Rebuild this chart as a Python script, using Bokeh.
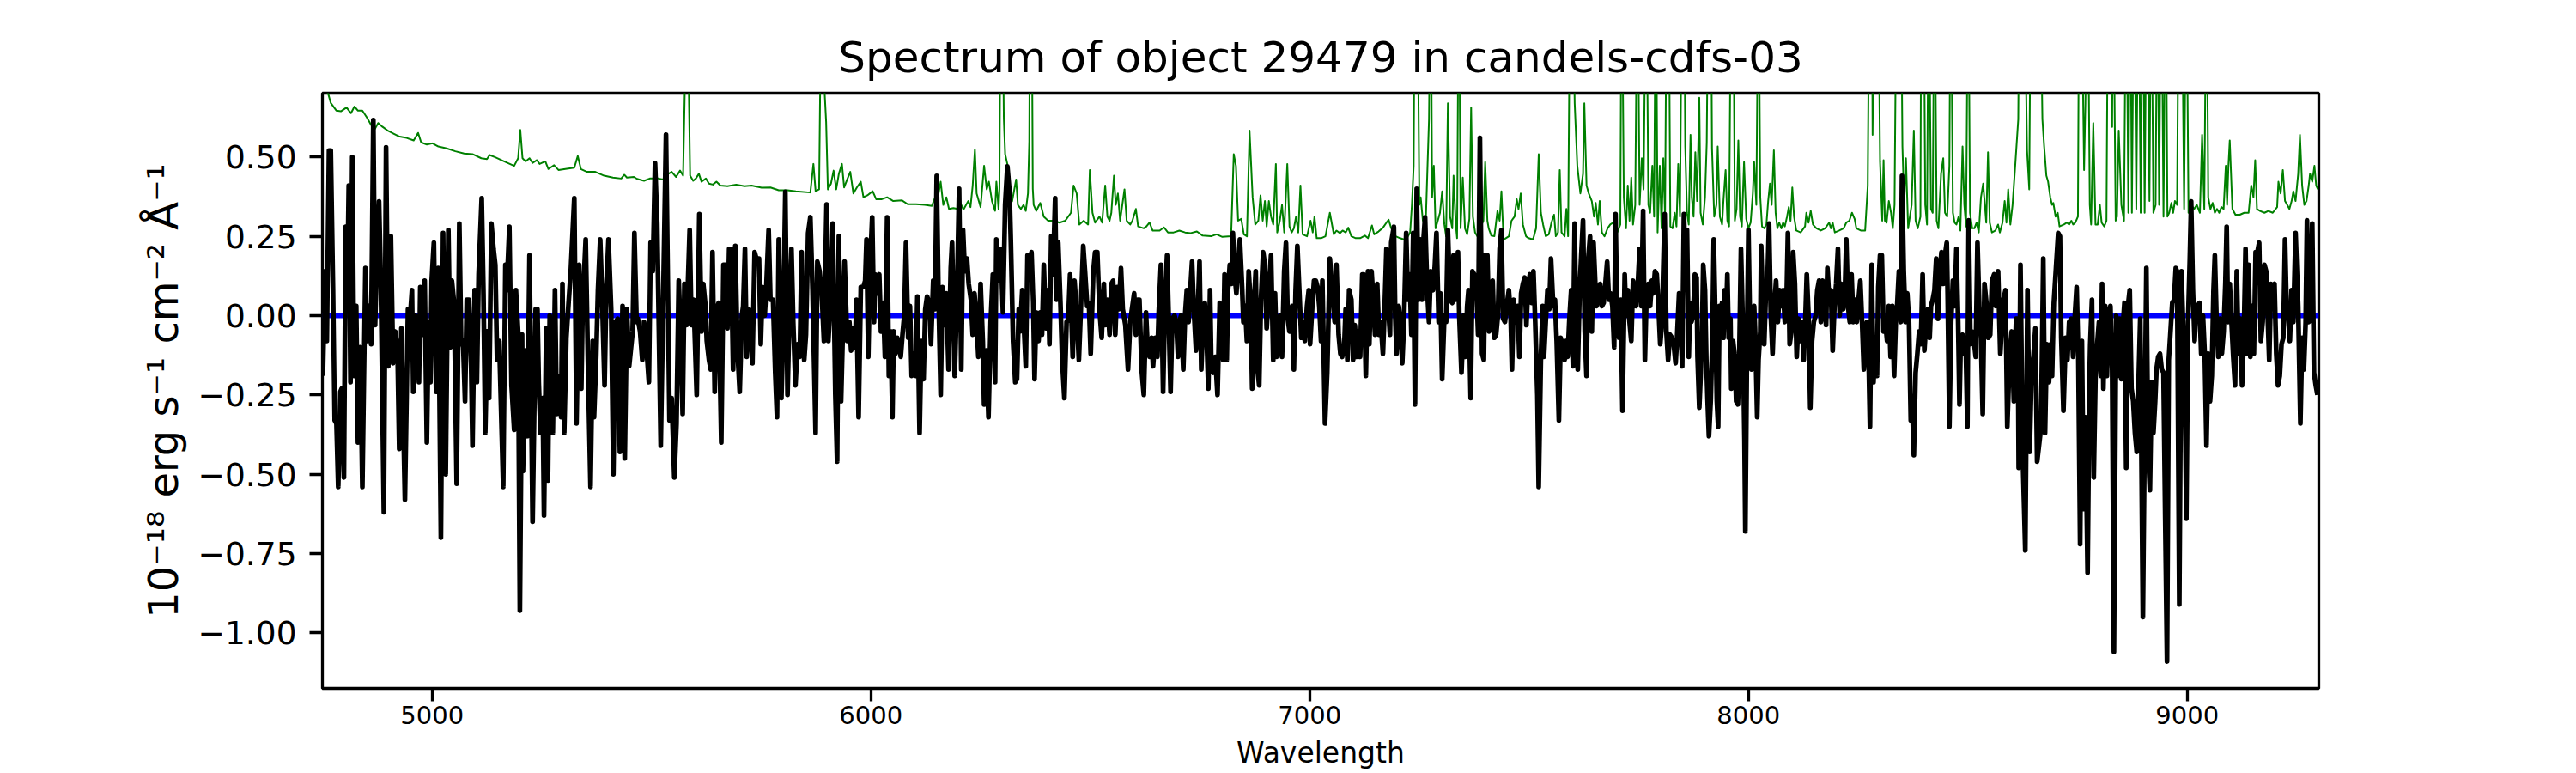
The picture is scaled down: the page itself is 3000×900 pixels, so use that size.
from bokeh.plotting import figure
from bokeh.models import Range1d, FixedTicker
from bokeh.embed import file_html
from bokeh.resources import INLINE

TITLE = "Spectrum of object 29479 in candels-cdfs-03"
X_LABEL = "Wavelength"
Y_LABEL = "10\u207b\u00b9\u2078 erg s\u207b\u00b9 cm\u207b\u00b2 \u00c5\u207b\u00b9"

x_ticks = [5000, 6000, 7000, 8000, 9000]
x_tick_labels = ["5000", "6000", "7000", "8000", "9000"]
y_ticks = [-1.0, -0.75, -0.5, -0.25, 0.0, 0.25, 0.5]
y_tick_labels = ["\u22121.00", "\u22120.75", "\u22120.50", "\u22120.25", "0.00", "0.25", "0.50"]

# object flux (black): (wavelength, flux)
flux_a = [(4751,-0.19),(4756,0.14),(4760,-0.08),(4765,0.52),(4769,0.52),(4774,0.09),(4778,-0.33),(4782,-0.34),(4786,-0.54),(4791,-0.24),(4794,-0.23),(4799,-0.51),(4803,0.28),(4807,0.09),(4810,0.41),(4814,-0.21),(4818,0.50),(4822,-0.19),(4827,0.03),(4831,-0.40),(4836,-0.10),(4841,-0.54),(4848,0.15),(4852,-0.08),(4856,0.03),(4861,-0.09),(4866,0.616),(4870,-0.03),(4874,0.19),(4879,0.36),(4883,0.11),(4890,-0.62),(4895,0.53),(4900,-0.16),(4906,0.25),(4911,-0.15),(4916,-0.05),(4921,-0.10),(4925,-0.42),(4930,-0.04),(4938,-0.58),(4945,0.02),(4950,0.00),(4954,0.08),(4957,-0.24),(4962,0.00),(4966,-0.01),(4970,-0.21),(4973,0.09),(4978,-0.06),(4983,0.11),(4988,-0.40),(4992,-0.02),(4996,-0.21),(4999,0.11),(5004,0.23),(5009,-0.24),(5014,0.15),(5020,-0.70),(5025,0.26),(5031,-0.50),(5037,0.27),(5041,-0.10),(5045,0.11),(5050,0.04),(5056,-0.53),(5062,0.29),(5066,-0.07),(5071,-0.10),(5075,-0.27),(5079,0.05),(5084,0.05),(5089,-0.16),(5092,-0.41),(5097,0.08),(5102,-0.21),(5106,0.13),(5113,0.37),(5117,0.07),(5121,-0.37),(5126,-0.05),(5130,-0.26),(5135,0.29),(5140,0.21),(5144,0.16),(5148,-0.14),(5153,-0.08),(5162,-0.54),(5167,0.16),(5170,0.08),(5176,0.28),(5181,-0.22),(5187,-0.36),(5191,0.08),(5196,-0.05),(5200,-0.93),(5205,-0.06),(5207,-0.49),(5213,-0.11),(5217,-0.38),(5222,0.19),(5229,-0.65),(5236,0.02),(5240,0.02),(5243,-0.21),(5247,-0.37),(5252,-0.26),(5255,-0.63),(5260,-0.04),(5264,-0.52),(5268,0.00),(5275,-0.37),(5280,0.08),(5284,-0.31),(5290,-0.19),(5294,-0.32),(5297,0.10),(5301,-0.37),(5306,-0.07),(5311,0.04),(5316,0.14),(5324,0.37),(5329,-0.34),(5335,0.16),(5340,-0.23),(5343,0.03),(5350,0.24),(5355,-0.14),(5361,-0.54),(5366,-0.08),(5369,-0.32),(5374,-0.13),(5378,0.08),(5383,0.24),(5387,0.08),(5393,-0.22),(5397,0.08),(5402,0.24),(5408,0.02),(5413,-0.50),(5418,-0.02),(5423,-0.01),(5428,-0.43),(5434,0.03),(5439,-0.45),(5444,0.02),(5449,-0.16),(5457,-0.05),(5461,0.26),(5466,-0.02),(5469,-0.01),(5474,-0.05),(5479,-0.14),(5483,-0.02),(5488,-0.09),(5494,-0.21),(5498,0.23),(5503,0.14),(5508,0.48),(5513,0.29),(5521,-0.41)]
flux_b = [(5533,0.57),(5541,-0.33),(5546,-0.26),(5552,-0.51),(5557,-0.34),(5562,0.11),(5567,-0.08),(5571,-0.31),(5575,0.10),(5580,-0.03),(5587,0.27),(5591,-0.03),(5596,0.05),(5603,-0.25),(5609,0.32),(5614,-0.05),(5618,0.10),(5623,0.03),(5626,-0.08),(5631,-0.14),(5635,-0.17),(5639,0.20),(5644,-0.24),(5648,0.02),(5653,0.04),(5659,-0.40),(5664,0.16),(5668,0.16),(5673,-0.04),(5677,0.21),(5681,0.21),(5686,-0.17),(5691,0.22),(5696,-0.11),(5701,-0.24),(5706,0.00),(5709,0.03),(5713,0.21),(5717,-0.13),(5722,0.02),(5725,-0.02),(5730,-0.15),(5735,0.20),(5739,0.18),(5745,0.18),(5749,-0.09),(5753,0.09),(5758,0.00),(5762,0.10),(5767,0.27),(5771,0.05),(5777,0.05),(5782,-0.18),(5786,-0.32),(5790,0.24),(5796,-0.26),(5800,-0.05),(5805,0.39),(5810,-0.25),(5815,0.05),(5819,0.21),(5823,-0.02),(5828,-0.22),(5833,-0.09),(5838,-0.13),(5842,0.20),(5848,-0.14),(5852,-0.06),(5857,0.26),(5862,0.31),(5867,0.08),(5874,-0.37),(5878,0.17),(5883,0.14),(5888,0.07),(5893,-0.08),(5899,0.35),(5903,-0.08),(5908,0.05),(5913,0.29),(5919,-0.25),(5923,-0.46),(5927,0.25),(5932,-0.27),(5936,-0.05),(5940,0.17),(5946,-0.08),(5951,-0.02),(5955,-0.11),(5960,-0.04),(5964,-0.10),(5967,0.05),(5972,-0.32),(5977,0.09),(5983,0.09),(5987,0.11),(5990,0.24),(5994,-0.13),(5998,0.15),(6003,0.31),(6007,-0.02),(6010,0.13),(6014,0.07),(6019,0.13),(6023,-0.05),(6028,0.04),(6032,-0.13),(6037,0.31),(6041,-0.19),(6045,-0.05),(6049,-0.32),(6052,-0.05),(6056,-0.12),(6060,-0.07),(6064,-0.09),(6068,-0.13),(6072,-0.06),(6076,0.00),(6080,0.23),(6085,-0.07),(6089,0.03),(6093,-0.19),(6098,-0.12),(6102,-0.19),(6106,0.06),(6111,-0.37),(6115,-0.08),(6120,-0.20),(6124,0.02),(6128,0.06),(6133,0.04),(6137,-0.09),(6142,0.11),(6146,0.02),(6150,0.44),(6154,0.07),(6159,-0.25),(6163,0.09),(6167,-0.03),(6172,0.07),(6177,-0.17),(6182,0.15),(6185,0.23),(6191,-0.19),(6196,0.05),(6201,0.40),(6206,-0.17),(6210,0.27),(6214,0.14),(6219,0.18),(6223,0.10),(6228,0.05),(6232,-0.06),(6236,0.07),(6240,0.00),(6245,-0.13),(6250,0.10),(6255,-0.08),(6258,-0.28),(6263,-0.11),(6268,-0.32),(6273,-0.02),(6278,0.13),(6283,-0.21),(6286,0.24)]
flux_c = [(6293,0.11),(6296,0.21),(6301,0.01),(6306,0.35),(6311,0.47),(6316,0.39),(6319,0.23),(6324,-0.08),(6329,-0.21),(6333,-0.20),(6337,0.02),(6340,-0.05),(6345,0.08),(6349,-0.04),(6353,-0.16),(6357,0.19),(6361,0.15),(6366,0.20),(6370,0.04),(6373,-0.20),(6377,0.01),(6382,-0.08),(6386,0.01),(6390,-0.06),(6394,0.16),(6399,-0.04),(6404,0.08),(6407,-0.09),(6411,0.25),(6415,0.13),(6420,0.37),(6423,0.05),(6427,0.23),(6432,0.04),(6436,-0.14),(6441,-0.26),(6446,-0.02),(6450,-0.01),(6454,0.13),(6460,-0.13),(6464,0.11),(6469,0.01),(6474,-0.14),(6479,0.04),(6484,0.22),(6488,0.14),(6493,0.03),(6497,0.04),(6501,-0.12),(6507,0.14),(6511,0.20),(6516,0.20),(6521,0.02),(6526,-0.07),(6531,0.10),(6534,-0.03),(6539,0.05),(6544,-0.06),(6548,0.10),(6552,0.11),(6557,-0.06),(6561,0.09),(6565,0.02),(6570,0.15),(6574,0.02),(6580,-0.03),(6586,-0.17),(6591,-0.02),(6596,0.03),(6600,0.07),(6604,-0.06),(6608,0.05),(6612,0.05),(6617,-0.17),(6622,-0.25),(6627,0.01),(6630,-0.08),(6635,-0.13),(6640,-0.07),(6643,-0.16),(6648,-0.07),(6653,-0.13),(6656,0.01),(6661,0.16),(6666,-0.24),(6670,0.03),(6675,0.19),(6679,-0.02),(6683,-0.24),(6687,-0.01),(6692,0.00),(6696,-0.02),(6700,-0.13),(6703,-0.02),(6707,0.00),(6712,-0.17),(6716,0.00),(6720,0.08),(6724,-0.02),(6728,0.08),(6732,0.17),(6736,0.02),(6741,-0.11),(6745,0.01),(6749,0.17),(6753,-0.17),(6757,-0.02),(6761,0.04),(6765,-0.06),(6769,-0.23),(6773,0.08),(6776,-0.17),(6780,-0.18),(6785,-0.13),(6790,-0.25),(6795,0.04),(6799,-0.02),(6803,-0.14),(6806,0.13),(6811,-0.14),(6814,0.08),(6818,0.16),(6822,0.10),(6825,0.26),(6829,0.13),(6833,0.07),(6837,0.16),(6841,0.24),(6846,0.09),(6849,-0.02),(6853,0.03),(6857,-0.08),(6861,0.14),(6865,0.05),(6869,-0.23),(6873,0.03),(6877,0.14),(6881,-0.17),(6885,-0.22),(6889,0.05),(6894,0.20),(6898,0.16),(6902,-0.04),(6907,0.08),(6912,0.19),(6917,-0.14),(6921,0.07),(6925,-0.13),(6929,-0.12),(6933,0.00),(6937,-0.13),(6942,0.14),(6946,0.23),(6950,-0.01),(6954,-0.05),(6960,0.03),(6964,-0.17),(6968,0.08),(6972,0.22),(6976,0.09),(6981,-0.07),(6985,-0.02),(6989,-0.08),(6994,0.03),(6998,0.08),(7001,-0.09),(7006,0.03),(7010,0.11),(7014,0.11),(7018,0.09),(7022,0.03),(7026,-0.08),(7029,0.11),(7035,-0.34),(7040,-0.18),(7046,0.18)]
flux_d = [(7057,-0.02),(7061,0.16),(7066,-0.06),(7070,-0.12),(7074,-0.13),(7079,-0.09),(7082,0.02),(7086,-0.14),(7090,0.08),(7095,0.05),(7099,-0.14),(7103,-0.03),(7107,-0.13),(7111,-0.05),(7115,-0.13),(7120,0.13),(7123,0.13),(7128,-0.19),(7133,0.14),(7136,-0.09),(7141,0.14),(7145,0.05),(7149,-0.06),(7154,0.10),(7158,-0.06),(7162,-0.02),(7167,-0.12),(7171,0.03),(7175,0.21),(7178,0.05),(7183,-0.06),(7186,0.23),(7192,0.28),(7195,0.00),(7198,-0.12),(7203,0.03),(7207,-0.02),(7211,-0.15),(7215,-0.02),(7220,0.26),(7224,0.05),(7228,0.13),(7232,-0.06),(7236,0.26),(7240,-0.28),(7244,0.40),(7248,0.05),(7252,0.24),(7256,0.05),(7259,0.23),(7263,0.31),(7268,0.08),(7272,-0.02),(7276,0.14),(7281,0.08),(7285,0.15),(7289,0.26),(7294,-0.02),(7298,0.07),(7302,-0.20),(7307,0.00),(7311,-0.02),(7315,0.27),(7320,0.05),(7325,0.04),(7328,0.19),(7333,0.05),(7338,0.20),(7341,0.00),(7346,-0.18),(7351,0.00),(7355,-0.13),(7359,0.03),(7362,0.08),(7367,-0.26),(7371,0.14),(7375,0.13),(7380,0.09),(7384,-0.06),(7388,0.56),(7393,-0.12),(7397,-0.14),(7400,0.19),(7405,0.19),(7409,-0.05),(7413,0.03),(7417,0.11),(7421,-0.07),(7425,-0.06),(7429,0.00),(7433,0.21),(7437,0.27),(7441,-0.01),(7445,-0.02),(7449,0.03),(7454,0.08),(7458,0.00),(7461,-0.17),(7465,0.05),(7470,-0.02),(7474,0.03),(7478,-0.13),(7482,0.07),(7486,0.10),(7490,0.12),(7494,-0.03),(7498,0.10),(7502,0.13),(7506,0.04),(7510,0.14),(7514,-0.02),(7519,-0.25),(7522,-0.54),(7527,-0.13),(7531,0.03),(7534,-0.13),(7538,-0.02),(7542,0.08),(7546,0.02),(7550,0.18),(7555,0.03),(7559,0.05),(7563,-0.08),(7568,-0.33),(7572,-0.07),(7576,-0.09),(7581,-0.14),(7584,-0.08),(7588,-0.13),(7592,-0.01),(7596,0.08),(7600,-0.16),(7604,0.29),(7607,-0.02),(7611,-0.17),(7615,0.07),(7619,0.19),(7623,0.30),(7627,-0.05),(7631,-0.19),(7635,0.18),(7639,0.25),(7643,-0.05),(7647,0.23),(7651,0.10),(7654,0.03),(7658,0.05),(7662,0.10),(7666,0.03),(7670,0.04),(7674,0.10),(7678,0.17),(7682,0.05),(7686,0.07),(7690,0.03),(7694,-0.10),(7697,0.32),(7701,-0.02),(7705,-0.07),(7709,0.05),(7713,-0.30),(7718,0.13),(7721,0.00),(7725,0.08),(7729,-0.02),(7733,-0.08),(7737,0.11),(7740,0.08),(7744,0.03),(7748,0.10),(7752,0.21),(7756,0.03),(7760,0.33),(7764,-0.14),(7768,0.08),(7772,0.10),(7776,0.03),(7780,0.11),(7783,0.07),(7787,0.14),(7791,0.13),(7795,0.03),(7799,-0.09),(7803,-0.02),(7809,0.32)]
flux_e = [(7813,-0.05),(7817,-0.14),(7821,-0.06),(7826,-0.07),(7829,-0.08),(7834,-0.15),(7837,-0.08),(7842,0.07),(7845,-0.01),(7849,-0.16),(7853,0.32),(7857,0.13),(7860,0.27),(7864,-0.13),(7867,0.04),(7870,-0.02),(7874,0.00),(7878,0.13),(7882,0.12),(7884,-0.13),(7888,-0.29),(7891,-0.19),(7894,-0.08),(7897,0.16),(7901,0.08),(7904,-0.14),(7907,-0.27),(7910,-0.38),(7914,-0.27),(7918,-0.06),(7921,0.24),(7925,-0.03),(7928,-0.27),(7931,-0.35),(7934,0.03),(7937,-0.03),(7940,0.04),(7943,-0.07),(7946,0.08),(7949,-0.02),(7952,0.13),(7955,-0.07),(7959,-0.01),(7961,-0.23),(7965,-0.08),(7969,-0.13),(7972,-0.27),(7976,-0.28),(7979,-0.14),(7983,0.21),(7987,-0.02),(7991,-0.39),(7993,-0.68),(7997,-0.05),(8000,0.27),(8004,-0.07),(8007,-0.17),(8010,0.00),(8013,0.03),(8016,-0.08),(8020,-0.32),(8023,-0.14),(8027,-0.05),(8029,0.22),(8032,0.08),(8036,-0.09),(8040,0.08),(8043,0.09),(8047,0.29),(8051,0.00),(8055,-0.12),(8059,0.03),(8063,0.11),(8067,-0.02),(8071,0.08),(8075,0.03),(8079,0.08),(8083,-0.02),(8087,0.05),(8090,0.26),(8094,-0.09),(8098,-0.05),(8102,0.20),(8106,0.10),(8110,-0.13),(8114,-0.01),(8118,-0.08),(8122,-0.02),(8126,-0.14),(8130,0.00),(8133,0.13),(8137,0.00),(8141,-0.29),(8145,-0.08),(8149,-0.02),(8153,0.00),(8157,0.08),(8161,0.11),(8165,-0.02),(8169,0.11),(8173,0.03),(8177,-0.03),(8180,0.15),(8184,0.05),(8188,0.08),(8192,-0.11),(8196,0.03),(8200,0.10),(8204,0.21),(8208,0.00),(8212,0.10),(8216,0.02),(8220,0.08),(8223,0.24),(8227,0.03),(8231,-0.02),(8235,0.13),(8239,-0.02),(8243,0.05),(8247,-0.02),(8251,0.05),(8255,0.11),(8259,-0.02),(8263,-0.17),(8266,-0.07),(8270,-0.02),(8274,-0.14),(8277,-0.35),(8281,0.16),(8285,-0.21),(8289,-0.07),(8293,-0.19),(8296,0.09),(8300,0.19),(8304,0.19),(8308,-0.05),(8312,-0.02),(8316,-0.08),(8320,0.03),(8324,-0.13),(8328,0.03),(8332,-0.19),(8336,-0.01),(8339,0.03),(8343,0.14),(8347,-0.02),(8350,0.44),(8354,0.14),(8358,-0.02),(8362,0.07),(8366,-0.02),(8370,-0.33),(8373,-0.27),(8377,-0.44),(8381,-0.18),(8385,-0.12),(8389,-0.05),(8393,-0.09),(8397,0.13),(8401,-0.11),(8405,-0.02),(8409,0.02),(8413,-0.07),(8416,0.03),(8420,0.05),(8424,0.08),(8428,0.18),(8432,-0.01),(8436,0.13),(8440,0.20),(8444,0.10),(8448,0.19),(8452,0.23),(8454,0.07),(8458,-0.35),(8462,-0.02),(8466,0.11),(8470,0.03),(8474,0.21),(8478,-0.02),(8481,-0.28),(8484,-0.07),(8488,-0.06),(8492,-0.12),(8495,-0.07),(8499,-0.35),(8502,0.30),(8506,-0.09),(8510,-0.05),(8514,-0.08),(8518,-0.13),(8522,0.23),(8526,0.03),(8530,-0.07),(8534,-0.31),(8538,0.10),(8543,0.03),(8547,-0.07),(8551,-0.06),(8555,0.11),(8560,0.13),(8564,0.03),(8569,0.14),(8574,-0.12)]
flux_f = [(8581,0.05),(8586,0.08),(8590,-0.35),(8595,-0.14),(8600,-0.05),(8605,-0.27),(8610,-0.01),(8614,-0.01),(8616,-0.48),(8620,0.16),(8625,-0.43),(8631,-0.74),(8636,0.08),(8641,-0.43),(8646,-0.14),(8649,-0.14),(8654,-0.04),(8658,-0.46),(8663,-0.40),(8667,-0.35),(8672,0.18),(8676,-0.37),(8680,-0.09),(8685,-0.21),(8689,-0.09),(8692,-0.19),(8696,0.04),(8701,0.15),(8706,0.26),(8710,0.25),(8713,-0.07),(8718,-0.30),(8723,-0.07),(8727,-0.14),(8731,-0.02),(8736,-0.01),(8740,-0.13),(8744,0.00),(8748,0.09),(8752,-0.14),(8756,-0.72),(8760,-0.08),(8764,-0.61),(8767,-0.32),(8770,-0.51),(8773,-0.81),(8777,-0.22),(8779,-0.09),(8783,0.05),(8787,-0.51),(8791,-0.19),(8795,-0.09),(8799,-0.02),(8803,-0.19),(8806,0.10),(8809,-0.23),(8813,0.03),(8817,-0.19),(8821,0.00),(8825,0.03),(8829,-0.17),(8833,-1.06),(8838,0.00),(8842,-0.19),(8846,-0.01),(8850,-0.20),(8854,-0.02),(8857,0.04),(8861,-0.48),(8865,0.03),(8869,0.08),(8873,-0.23),(8877,-0.27),(8881,-0.37),(8885,-0.43),(8889,-0.22),(8893,-0.01),(8899,-0.95),(8903,-0.37),(8907,0.15),(8911,-0.43),(8915,-0.55),(8919,-0.21),(8923,-0.37),(8927,-0.27),(8930,-0.17),(8934,-0.13),(8938,-0.12),(8942,-0.17),(8946,-0.18),(8950,-0.64),(8954,-1.09),(8958,-0.14),(8962,-0.05),(8966,0.04),(8970,0.05),(8974,0.15),(8977,0.14),(8982,-0.91),(8987,0.14),(8990,0.00),(8994,-0.14),(8998,-0.64),(9002,-0.02),(9006,0.18),(9009,0.36),(9013,0.08),(9017,-0.08),(9020,0.02),(9024,0.03),(9028,0.04),(9032,-0.12),(9036,0.00),(9040,-0.12),(9044,-0.41),(9048,-0.12),(9052,-0.27),(9056,-0.19),(9060,0.08),(9063,0.19),(9067,-0.02),(9071,-0.13),(9075,-0.01),(9079,-0.12),(9083,-0.05),(9087,0.10),(9090,0.28),(9093,-0.02),(9097,0.10),(9101,-0.02),(9105,-0.13),(9109,-0.22),(9113,0.14),(9117,-0.12),(9121,-0.01),(9125,-0.22),(9129,-0.07),(9133,0.21),(9137,-0.12),(9140,0.16),(9144,-0.13),(9148,0.03),(9152,-0.12),(9156,0.20),(9160,0.20),(9164,0.23),(9168,-0.08),(9172,-0.02),(9176,0.16),(9180,0.14),(9184,-0.02),(9187,-0.14),(9191,0.10),(9195,0.09),(9199,0.10),(9203,-0.12),(9207,-0.22),(9211,-0.19),(9215,-0.09),(9219,-0.07),(9223,0.24),(9227,0.00),(9230,0.00),(9234,-0.08),(9238,0.08),(9242,-0.02),(9247,0.26),(9253,0.03),(9258,-0.34),(9262,-0.07),(9266,-0.17),(9270,-0.02),(9273,0.30),(9277,-0.02),(9281,-0.01),(9285,0.29),(9289,-0.18),(9293,-0.22),(9297,-0.25)]

# sky / noise spectrum (green); 1.2 marks lines that run off the top of the panel
sky_a = [(4750,0.72),(4763,0.70),(4769,0.67),(4782,0.646),(4792,0.644),(4805,0.656),(4815,0.638),(4823,0.659),(4831,0.646),(4841,0.646),(4851,0.625),(4861,0.601),(4870,0.589),(4877,0.607),(4887,0.595),(4900,0.582),(4913,0.573),(4926,0.564),(4942,0.560),(4958,0.552),(4968,0.576),(4975,0.546),(4988,0.539),(5001,0.543),(5014,0.533),(5033,0.527),(5053,0.518),(5073,0.511),(5092,0.509),(5112,0.496),(5125,0.493),(5131,0.506),(5144,0.499),(5164,0.486),(5177,0.478),(5187,0.472),(5196,0.496),(5201,0.585),(5206,0.496),(5213,0.486),(5222,0.496),(5229,0.481),(5239,0.490),(5245,0.478),(5258,0.486),(5265,0.462),(5278,0.474),(5288,0.459),(5307,0.463),(5324,0.466),(5332,0.503),(5339,0.462),(5353,0.453),(5372,0.453),(5392,0.441),(5412,0.435),(5431,0.432),(5438,0.444),(5444,0.435),(5460,0.437),(5467,0.431),(5483,0.425),(5496,0.432),(5516,0.432)]
sky_b = [(5526,0.429),(5536,0.445),(5546,0.453),(5556,0.437),(5565,0.457),(5572,0.441),(5576,0.72),(5580,1.2),(5585,0.72),(5588,0.441),(5595,0.425),(5601,0.432),(5608,0.447),(5614,0.422),(5624,0.432),(5631,0.416),(5640,0.413),(5648,0.422),(5657,0.410),(5673,0.408),(5693,0.413),(5712,0.408),(5728,0.410),(5751,0.403),(5771,0.404),(5790,0.395),(5810,0.395),(5829,0.392),(5862,0.388),(5869,0.478),(5874,0.392),(5882,0.398),(5888,1.2),(5891,0.80),(5898,0.61),(5902,0.398),(5909,0.416),(5915,0.457),(5921,0.398),(5927,0.447),(5934,0.478),(5939,0.404),(5946,0.429),(5953,0.453),(5960,0.385),(5968,0.404),(5977,0.422),(5983,0.373),(5992,0.379),(6004,0.392),(6012,0.367),(6025,0.367),(6037,0.373),(6051,0.361),(6071,0.363),(6084,0.351),(6103,0.351),(6123,0.349),(6139,0.346),(6146,0.371),(6152,0.367),(6159,0.422),(6165,0.349),(6172,0.373),(6178,0.336),(6188,0.339),(6198,0.336),(6204,0.355),(6211,0.334),(6217,0.349),(6222,0.361),(6227,0.342),(6232,0.410),(6237,0.523),(6241,0.385),(6250,0.342),(6258,0.472),(6264,0.398),(6269,0.422),(6276,0.361),(6283,0.330)]
sky_c = [(6286,0.422),(6291,0.336),(6293,0.40),(6296,1.2),(6299,1.2),(6303,0.62),(6306,0.509),(6311,0.478),(6316,0.349),(6322,0.361),(6331,0.429),(6335,0.349),(6342,0.336),(6348,0.349),(6353,0.330),(6358,0.385),(6361,0.55),(6363,1.2),(6366,1.2),(6369,0.40),(6371,0.349),(6377,0.330),(6386,0.355),(6394,0.312),(6404,0.299),(6417,0.299),(6430,0.293),(6443,0.299),(6456,0.324),(6462,0.410),(6469,0.385),(6475,0.287),(6485,0.299),(6495,0.287),(6499,0.459),(6505,0.324),(6511,0.293),(6521,0.312),(6527,0.293),(6534,0.410),(6539,0.312),(6544,0.299),(6548,0.324),(6554,0.441),(6558,0.349),(6563,0.385),(6568,0.299),(6573,0.349),(6578,0.398),(6583,0.299),(6591,0.287),(6596,0.299),(6604,0.336),(6609,0.281),(6622,0.275),(6628,0.281),(6635,0.293),(6642,0.268),(6658,0.268),(6668,0.278),(6677,0.262),(6690,0.262),(6703,0.268),(6716,0.262),(6729,0.260),(6743,0.265),(6756,0.252),(6775,0.250),(6788,0.256),(6801,0.248),(6821,0.250),(6827,0.509),(6832,0.472),(6837,0.299),(6844,0.305),(6850,0.256),(6857,0.250),(6863,0.583),(6870,0.373),(6876,0.287),(6883,0.299),(6888,0.379),(6893,0.299),(6898,0.361),(6902,0.281),(6907,0.361),(6912,0.312),(6917,0.287),(6923,0.478),(6926,0.262),(6932,0.299),(6937,0.349),(6942,0.262),(6949,0.478),(6954,0.281),(6959,0.262),(6964,0.275),(6969,0.312),(6974,0.262),(6979,0.410),(6984,0.256),(6994,0.250),(7002,0.299),(7007,0.262),(7011,0.312),(7016,0.244),(7026,0.244),(7036,0.250),(7046,0.324)]
sky_d = [(7055,0.256),(7061,0.268),(7069,0.260),(7075,0.268),(7082,0.262),(7088,0.277),(7095,0.250),(7105,0.244),(7115,0.244),(7126,0.252),(7133,0.244),(7142,0.284),(7147,0.256),(7157,0.265),(7167,0.277),(7175,0.293),(7180,0.302),(7186,0.275),(7196,0.250),(7206,0.244),(7219,0.238),(7229,0.262),(7233,0.349),(7237,0.472),(7240,1.2),(7245,1.2),(7250,0.349),(7253,0.373),(7258,0.299),(7265,0.312),(7272,0.619),(7276,1.2),(7279,0.373),(7283,0.472),(7287,0.275),(7292,0.299),(7297,0.324),(7302,0.392),(7307,0.287),(7311,0.250),(7315,0.669),(7320,0.312),(7325,0.275),(7328,0.441),(7333,0.287),(7336,0.244),(7340,1.2),(7344,0.275),(7349,0.435),(7354,0.275),(7359,0.256),(7364,0.305),(7368,0.656),(7372,0.312),(7377,0.262),(7382,0.250),(7387,0.244),(7392,0.287),(7396,0.299),(7400,0.484),(7405,0.299),(7408,0.275),(7414,0.252),(7421,0.250),(7428,0.330),(7433,0.299),(7437,0.392),(7442,0.238),(7447,0.244),(7454,0.250),(7460,0.299),(7467,0.312),(7472,0.367),(7476,0.336),(7481,0.385),(7486,0.287),(7493,0.250),(7499,0.244),(7509,0.240),(7516,0.275),(7522,0.509),(7527,0.324),(7532,0.287),(7538,0.250),(7545,0.256),(7551,0.293),(7557,0.318),(7561,0.250),(7566,0.262),(7570,0.459),(7574,0.262),(7581,0.250),(7585,0.336),(7589,0.250),(7594,1.2),(7598,1.2),(7604,0.669),(7610,0.472),(7617,0.385),(7623,0.447),(7626,0.669),(7631,0.410),(7636,0.385),(7643,0.361),(7648,0.312),(7652,0.355),(7657,0.287),(7661,0.361),(7666,0.262),(7672,0.250),(7679,0.275),(7685,0.287),(7692,0.293),(7696,0.275),(7701,0.262),(7708,0.287),(7711,1.2),(7716,0.373),(7721,0.275),(7725,0.410),(7729,0.299),(7733,0.435),(7737,0.287),(7742,0.349),(7747,1.2),(7752,0.349),(7757,0.496),(7761,0.398),(7767,1.2),(7772,0.349),(7776,0.324),(7781,0.472),(7785,0.312),(7789,1.2)]
sky_e = [(7793,0.262),(7798,0.472),(7802,0.275),(7806,0.496),(7810,0.312),(7814,1.2),(7818,1.2),(7822,0.281),(7827,0.275),(7832,0.324),(7836,0.281),(7840,0.478),(7844,0.312),(7849,1.2),(7853,1.2),(7856,0.533),(7860,0.324),(7864,0.287),(7868,0.570),(7871,0.373),(7875,0.312),(7879,0.515),(7883,0.361),(7888,0.687),(7891,0.324),(7896,0.287),(7901,0.373),(7905,0.546),(7909,1.2),(7914,1.2),(7917,0.527),(7922,0.312),(7927,0.349),(7930,0.533),(7935,0.312),(7940,0.287),(7943,0.361),(7948,0.459),(7952,0.299),(7956,0.281),(7961,1.2),(7965,1.2),(7969,0.299),(7973,0.336),(7977,0.552),(7981,0.312),(7985,0.281),(7990,0.484),(7995,0.305),(8000,0.275),(8005,0.293),(8010,0.385),(8013,0.484),(8018,0.349),(8023,1.2),(8027,0.373),(8031,0.281),(8036,0.275),(8041,0.287),(8045,0.361),(8049,0.416),(8053,0.349),(8058,0.521),(8062,0.324),(8066,0.275),(8070,0.293),(8075,0.275),(8079,0.293),(8083,0.281),(8088,0.312),(8092,0.342),(8096,0.299),(8100,0.404),(8104,0.312),(8109,0.268),(8119,0.262),(8129,0.281),(8132,0.324),(8137,0.293),(8142,0.330),(8147,0.287),(8155,0.275),(8165,0.268),(8175,0.275),(8184,0.293),(8188,0.275),(8192,0.293),(8197,0.262),(8207,0.268),(8217,0.275),(8223,0.293),(8230,0.299),(8236,0.324),(8242,0.305),(8246,0.275),(8256,0.268),(8266,0.268),(8272,0.410),(8276,1.2),(8281,1.2),(8283,0.570),(8287,1.2),(8292,1.2),(8295,1.2),(8300,0.484),(8305,0.299),(8308,0.490),(8311,0.299),(8315,0.293),(8320,0.361),(8325,0.324),(8329,0.275),(8333,0.349),(8338,1.2),(8342,1.2),(8347,1.2),(8351,0.533),(8355,0.349),(8359,0.496),(8364,0.275),(8368,0.312),(8372,0.349),(8377,0.583),(8381,0.299),(8386,0.275),(8392,0.312),(8394,1.2),(8399,1.2),(8403,0.349),(8407,0.287),(8411,1.2),(8416,0.336),(8420,0.324),(8424,1.2),(8429,0.299),(8433,0.275),(8439,0.447),(8444,0.496),(8448,0.324),(8453,0.312),(8458,0.472),(8461,1.2),(8466,0.324),(8470,0.293),(8474,0.287),(8479,0.312),(8483,0.268),(8488,0.533),(8492,0.349),(8496,0.281),(8501,1.2),(8505,0.324),(8510,0.275),(8515,0.275),(8520,0.293),(8525,0.262),(8530,0.373),(8535,0.416)]
sky_f = [(8542,0.293),(8546,0.515),(8550,0.293),(8555,0.262),(8563,0.268),(8569,0.287),(8573,0.262),(8579,0.293),(8584,0.361),(8588,0.293),(8592,0.398),(8597,0.287),(8602,0.349),(8608,0.472),(8615,0.619),(8618,1.2),(8628,1.2),(8635,0.521),(8640,0.398),(8644,1.2),(8651,1.2),(8664,1.2),(8670,0.619),(8674,0.533),(8679,0.441),(8683,0.422),(8688,0.373),(8692,0.349),(8695,0.355),(8700,0.312),(8705,0.324),(8709,0.281),(8719,0.287),(8726,0.293),(8731,0.287),(8736,0.299),(8740,0.287),(8745,0.293),(8751,0.312),(8754,1.2),(8758,1.2),(8765,0.459),(8768,0.669),(8773,1.2),(8778,0.349),(8781,0.287),(8786,0.607),(8791,0.287),(8796,0.287),(8801,0.349),(8805,0.293),(8811,0.281),(8816,0.299),(8820,1.2),(8825,1.2),(8829,0.595),(8831,1.2),(8837,0.299),(8840,0.312),(8844,0.583),(8850,0.349),(8856,0.299),(8861,1.2),(8866,0.324),(8870,1.2),(8874,0.324),(8879,1.2),(8884,0.336),(8889,1.2),(8894,0.324),(8899,1.2),(8903,0.324),(8908,1.2),(8914,0.361),(8918,1.2),(8923,0.324),(8928,0.349),(8932,1.2),(8936,0.349),(8941,1.2),(8946,0.312),(8951,1.2),(8955,0.312),(8959,0.324),(8964,0.355),(8968,0.324),(8972,0.361),(8977,0.349),(8981,1.2),(8987,1.2),(8993,0.336),(8998,1.2),(9003,0.324),(9009,0.349),(9016,0.336),(9022,0.349),(9029,0.324),(9034,0.570),(9039,0.336),(9044,1.2),(9048,0.373),(9053,0.336),(9058,0.355),(9063,0.324),(9068,0.336),(9073,0.324),(9078,0.342),(9083,0.336),(9088,0.472),(9091,0.349),(9094,0.472),(9097,0.552),(9103,0.336),(9110,0.318),(9120,0.318),(9130,0.324),(9140,0.324),(9146,0.410),(9151,0.373),(9155,0.490),(9159,0.336),(9166,0.330),(9176,0.324),(9185,0.330),(9195,0.324),(9205,0.342),(9208,0.422),(9213,0.385),(9218,0.459),(9223,0.361),(9228,0.349),(9233,0.336),(9238,0.361),(9242,0.392),(9247,0.361),(9253,0.447),(9257,0.570),(9262,0.410),(9267,0.349),(9272,0.361),(9277,0.410),(9280,0.447),(9285,0.422),(9290,0.472),(9294,0.410),(9298,0.398)]

# model (blue)
model_wave = [4750, 9300]
model_flux = [0.0, 0.0]

flux_points = flux_a + flux_b + flux_c + flux_d + flux_e + flux_f
sky_points = sky_a + sky_b + sky_c + sky_d + sky_e + sky_f
flux_wave = [w for w, f in flux_points]
flux_vals = [f for w, f in flux_points]
sky_wave = [w for w, f in sky_points]
sky_vals = [f for w, f in sky_points]

FONT = "DejaVu Sans"

p = figure(width=3000, height=900, output_backend="svg", toolbar_location=None,
           x_range=Range1d(4750, 9300), y_range=Range1d(-1.175, 0.701),
           min_border_left=375, min_border_right=300, min_border_top=108, min_border_bottom=99,
           title=TITLE)
p.background_fill_color = "white"
p.border_fill_color = "white"
p.outline_line_color = "black"
p.outline_line_width = 3.3
p.outline_line_alpha = 1.0
p.xgrid.visible = False
p.ygrid.visible = False

p.title.text_font = FONT
p.title.text_font_size = "50px"
p.title.text_font_style = "normal"
p.title.text_color = "black"
p.title.align = "center"
p.title.standoff = 25

for ax in (p.xaxis[0], p.yaxis[0]):
    ax.axis_line_color = None
    ax.major_tick_line_color = "black"
    ax.major_tick_line_width = 3.3
    ax.major_tick_in = 0
    ax.major_tick_out = 15
    ax.minor_tick_line_color = None
    ax.major_label_text_font = FONT
    ax.major_label_text_color = "black"
    ax.axis_label_text_font = FONT
    ax.axis_label_text_font_style = "normal"
    ax.axis_label_text_color = "black"

p.xaxis.ticker = FixedTicker(ticks=x_ticks)
p.xaxis.major_label_overrides = {t: l for t, l in zip(x_ticks, x_tick_labels)}
p.xaxis.major_label_text_font_size = "29px"
p.xaxis.major_label_standoff = 5
p.xaxis.axis_label = X_LABEL
p.xaxis.axis_label_text_font_size = "33px"
p.xaxis.axis_label_standoff = 11

p.yaxis.ticker = FixedTicker(ticks=y_ticks)
p.yaxis.major_label_overrides = {t: l for t, l in zip(y_ticks, y_tick_labels)}
p.yaxis.major_label_text_font_size = "37.5px"
p.yaxis.major_label_standoff = 15
p.yaxis.axis_label = Y_LABEL
p.yaxis.axis_label_text_font_size = "48px"
p.yaxis.axis_label_standoff = 10

p.line(sky_wave, sky_vals, line_color="#008000", line_width=2, line_join="round")
p.line(model_wave, model_flux, line_color="#0000ff", line_width=6)
p.line(flux_wave, flux_vals, line_color="black", line_width=5.6, line_join="round")

open("out.html", "w").write(file_html(p, INLINE))
